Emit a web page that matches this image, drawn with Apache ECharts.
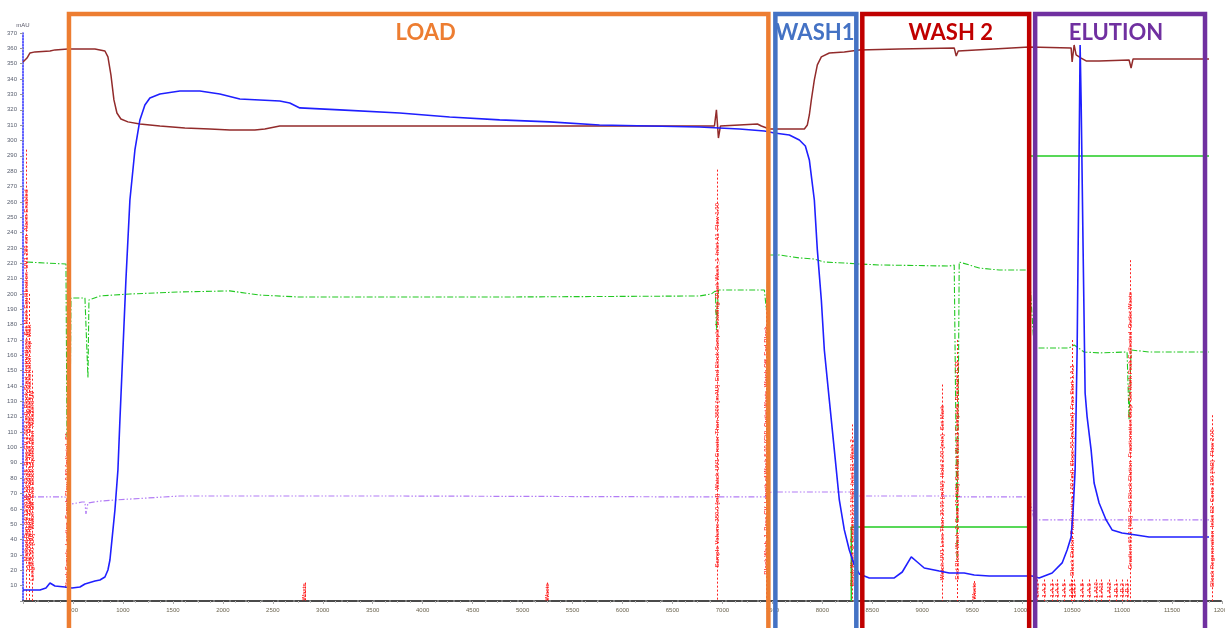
<!DOCTYPE html>
<html>
<head>
<meta charset="utf-8">
<script src="https://cdn.jsdelivr.net/npm/echarts@6/dist/echarts.min.js"></script>
<style>
  html, body { margin: 0; padding: 0; background: #fff; }
  #chart { width: 1225px; height: 628px; }
</style>
</head>
<body>
<div id="chart"></div>
<script>
// Purification run: UV absorbance, conductivity, pH, pressure and %B over volume (ml)

// UV 1_280 absorbance, [ml, mAU]
const uv280 = [
  [0, 7.2], [17, 7.2], [23, 8.5], [27, 11.7], [32, 9.8], [42, 9.1], [49, 8.5], [57, 9.1],
  [62, 11.1], [72, 13.0], [77, 13.7], [82, 15.6], [85, 20.2], [87, 26.7], [89, 39.7],
  [92, 59.3], [95, 85.3], [97, 117.9], [100, 163.5], [103, 209.1], [107, 261.2],
  [112, 293.8], [117, 313.4], [122, 323.1], [127, 327.7], [137, 330.3], [157, 332.2],
  [177, 332.2], [197, 330.3], [217, 327.0], [257, 325.7], [267, 324.4], [277, 321.2],
  [317, 319.9], [377, 317.9], [427, 315.3], [477, 313.4], [527, 312.1], [577, 310.1],
  [627, 309.4], [677, 308.8], [717, 307.5], [742, 306.2], [752, 304.9], [767, 303.6],
  [777, 300.3], [783, 296.4], [787, 287.3], [792, 261.2], [795, 228.7], [799, 196.1],
  [802, 163.5], [807, 130.9], [812, 98.4], [817, 65.8], [822, 46.3], [827, 33.2],
  [832, 23.5], [837, 17.6], [847, 15.0], [872, 15.0], [880, 18.9], [889, 28.7],
  [895, 25.4], [902, 21.5], [917, 19.5], [927, 18.2], [942, 18.2], [952, 16.9],
  [967, 16.3], [1010, 16.3], [1017, 15.0], [1030, 18.2], [1040, 24.8], [1045, 33.2],
  [1049, 41.7], [1051, 59.3], [1053, 85.3], [1055, 163.5], [1057, 293.8], [1058, 362.2],
  [1059, 326.4], [1061, 228.7], [1063, 135.5], [1065, 119.9], [1069, 98.4], [1072, 76.9],
  [1077, 63.8], [1084, 52.8], [1090, 46.3], [1100, 44.3], [1114, 43.0], [1127, 41.7],
  [1187, 41.7]
];

// Conductivity trace (scaled to mAU axis)
const conductivity = [
  [0, 351.1], [4, 353.7], [7, 357.0], [12, 357.7], [27, 358.3], [32, 359.0], [45, 359.6],
  [72, 359.6], [82, 358.3], [85, 354.4], [88, 342.7], [91, 326.4], [94, 317.9], [98, 314.0],
  [105, 312.1], [117, 310.7], [137, 309.4], [162, 308.1], [187, 307.5], [207, 306.8],
  [232, 306.8], [242, 307.5], [257, 309.4], [377, 309.4], [577, 309.4], [692, 309.4],
  [694, 319.9], [696, 301.6], [698, 309.4], [717, 310.1], [735, 310.7], [739, 309.4],
  [747, 307.5], [782, 307.5], [785, 310.1], [787, 316.6], [789, 326.4], [792, 339.4],
  [795, 349.2], [799, 354.4], [807, 357.0], [822, 357.7], [837, 359.0], [877, 359.6],
  [932, 360.3], [934, 355.0], [936, 358.3], [1007, 360.9], [1049, 360.3], [1050, 351.1],
  [1052, 362.2], [1054, 355.7], [1059, 353.7], [1064, 351.8], [1077, 351.8], [1107, 352.4],
  [1109, 347.2], [1111, 353.1], [1187, 353.1]
];

// pH trace
const pH = [
  [4, 220.8], [22, 220.2], [43, 219.5], [44, 106.8], [47, 106.8], [48, 197.4], [62, 197.4],
  [64, 196.1], [65, 145.3], [66, 196.1], [77, 198.7], [107, 200.0], [157, 201.3],
  [207, 202.0], [237, 199.3], [277, 198.0], [477, 198.0], [677, 198.7], [689, 200.0],
  [693, 202.0], [694, 176.5], [696, 202.6], [742, 202.6], [744, 189.6], [746, 225.4],
  [757, 225.4], [777, 223.5], [792, 222.8], [802, 220.8], [822, 220.2], [837, 219.5],
  [857, 218.9], [927, 218.2], [932, 218.9], [935, 26.7], [937, 220.8], [947, 218.9],
  [957, 216.9], [977, 215.6], [1007, 215.6], [1012, 164.8], [1047, 164.8], [1052, 166.8],
  [1054, 166.1], [1062, 162.2], [1077, 161.6], [1105, 162.2], [1107, 117.9], [1109, 163.5],
  [1127, 162.2], [1187, 162.2]
];

// Concentration %B (scaled), from the start of wash 2
const concB = [
  [829, 0], [829, 48.2], [1008, 48.2], [1008, 289.9], [1187, 289.9]
];

// System pressure (scaled)
const pressure = [
  [0, 67.8], [42, 67.8], [45, 63.8], [49, 63.2], [59, 64.5], [62, 64.5], [63, 56.7],
  [65, 63.8], [77, 65.1], [92, 65.8], [157, 68.4], [377, 68.4], [677, 67.8], [742, 67.8],
  [749, 71.0], [827, 71.0], [837, 68.4], [932, 68.4], [935, 67.8], [1007, 67.8],
  [1012, 52.8], [1187, 52.8]
];

// Run log events: position (ml), marker height (mAU), text
const eventX   = [3, 6, 9, 44, 282, 525, 695, 744, 830, 920, 935, 952, 1050, 1108, 1190];
const eventTop = [294, 200, 150, 118, 12, 12, 281, 196, 115, 141, 170, 13, 170, 222, 121];
const eventText = [
  'Method Run 04/12/2019 10:42:15  Base CV 1.000 {ml}  Block Start_Instructions  Set Mark Equilibration  UV1 280 nm  Alarm Enabled',
  'Flow 1.00 {ml/min}  Column Position 2  Inlet A1  Outlet Waste  Fractionation Stop  Wait',
  'Length 5.00 {CV}  Watch Off  End Block Equilibration  AutoZero UV',
  'Block Sample_Loading  Sample Flow 0.50 {ml/min}  S1',
  'Waste',
  'Waste',
  'Sample Volume 250.0 {ml}  Watch UV1 Greater Than 3500 {mAU}  End Block Sample_Loading  Block Wash_1  Inlet A1  Flow 1.00',
  'Block Wash_1  Base CV  Length of Wash 5.00 {CV}  Outlet Waste  Watch Off  End Block',
  'Block Wash_2  Gradient 10.0 {%B}  Inlet B1  Wash 2',
  'Watch UV1 Less Than 20.00 {mAU}  Hold 2.00 {min}  Set Mark',
  'End Block Wash_2  Conc 10 {%B}  Set Mark Wash 2 Complete  Pressure 0.32',
  'Waste',
  'Block Elution  Fractionation 1.00 {ml}  Slope 50 {mAU/ml}  Frac Start 1.A.1',
  'Gradient 60.0 {%B}  End Block Elution  Fractionation Stop  Set Mark Peak Collected  Outlet Waste',
  'Block Regeneration  Inlet B2  Conc 100 {%B}  Flow 2.00'
];

// Fraction collector marks during elution
const fracX = [1015, 1022, 1030, 1035, 1042, 1049, 1052, 1060, 1067, 1074, 1079, 1087, 1094, 1100, 1105];
const fracLabel = ['1.A.1', '1.A.2', '1.A.3', '1.A.4', '1.A.5', '1.A.6', '1.A.7', '1.A.8',
  '1.A.9', '1.A10', '1.A11', '1.A12', '1.B.1', '1.B.2', '1.B.3'];
const fracTop = 14;

// Process steps: name, start and end volume (ml)
const phaseNames = ['LOAD', 'WASH1', 'WASH 2', 'ELUTION'];
const phaseStart = [46, 753, 840, 1013];
const phaseEnd   = [746, 834, 1007, 1183];

// Frame colours and title nudges (px)
const phaseColor = { 'LOAD': '#ED7D31', 'WASH1': '#4472C4', 'WASH 2': '#C00000', 'ELUTION': '#7030A0' };
const titleNudge = { 'LOAD': 7, 'WASH1': -1, 'WASH 2': 5, 'ELUTION': -4 };

const chart = echarts.init(document.getElementById('chart'), null, { renderer: 'canvas' });

// Log marker lines (from marker top down to the baseline)
const logLines = eventX.map((x, i) => [{ coord: [x, eventTop[i]] }, { coord: [x, 0] }])
  .concat(fracX.map(x => [{ coord: [x, fracTop] }, { coord: [x, 0] }]));

// Log texts, written upward along each marker, centred on its midpoint
const logTexts = eventX.map((x, i) => ({ value: [x, eventTop[i] / 2], text: eventText[i] }))
  .concat(fracX.map((x, i) => ({ value: [x, fracTop / 2], text: fracLabel[i] })));

const option = {
  animation: false,
  backgroundColor: '#fff',
  grid: { left: 23, right: 3, top: 33, bottom: 27, containLabel: false, outerBoundsMode: 'none' },
  xAxis: {
    type: 'value', min: 0, max: 1200, interval: 50,
    axisLine: { show: true, lineStyle: { color: '#4a4a4a', width: 2, type: [14, 2] } },
    axisTick: { show: true, length: 3, lineStyle: { color: '#aaa' } },
    minorTick: { show: true, splitNumber: 4, length: 2, lineStyle: { color: '#bbb' } },
    splitLine: { show: false },
    axisLabel: {
      fontSize: 6, color: '#6b6450', margin: 6,
      formatter: v => (v === 0 ? '' : String(v * 10))
    }
  },
  yAxis: {
    type: 'value', min: 0, max: 370, interval: 10,
    name: 'mAU', nameLocation: 'end', nameGap: 5,
    nameTextStyle: { fontSize: 6, color: '#556', align: 'center' },
    axisLine: { show: true, lineStyle: { color: '#2a2aff', width: 1.5, type: 'dotted' } },
    axisTick: { show: true, length: 3, lineStyle: { color: '#999' } },
    splitLine: { show: false },
    axisLabel: {
      fontSize: 6, color: '#5a6070', margin: 6,
      formatter: v => (v === 0 ? '' : String(v))
    }
  },
  series: [
    {
      name: 'Pressure', type: 'line', data: pressure, showSymbol: false, z: 2,
      lineStyle: { color: '#b27cf5', width: 1.2, type: [6, 2, 1.5, 2, 1.5, 2] }
    },
    {
      name: 'pH', type: 'line', data: pH, showSymbol: false, z: 2,
      lineStyle: { color: '#22c822', width: 1.1, type: [6, 2, 1.5, 2] }
    },
    {
      name: 'Conc B', type: 'line', data: concB, showSymbol: false, z: 2,
      lineStyle: { color: '#22cc22', width: 1.5 }
    },
    {
      name: 'Run Log', type: 'line', data: [[0, 0]], showSymbol: false, z: 3,
      lineStyle: { opacity: 0 },
      markLine: {
        silent: true, symbol: ['none', 'none'], animation: false,
        lineStyle: { color: '#ff2020', width: 1, type: [2, 2] },
        label: { show: false },
        data: logLines
      }
    },
    {
      name: 'Run Log Text', type: 'scatter', data: logTexts, z: 3, silent: true,
      symbolSize: 1, itemStyle: { color: 'transparent' },
      label: {
        show: true, position: 'inside', rotate: 90,
        color: '#ff0000', fontSize: 6, fontWeight: 'bold', fontFamily: 'Liberation Sans',
        formatter: p => p.data.text
      },
      emphasis: { disabled: true }
    },
    {
      name: 'Cond', type: 'line', data: conductivity, showSymbol: false, z: 4,
      lineStyle: { color: '#922b2b', width: 1.5 }
    },
    {
      name: 'UV 1_280', type: 'line', data: uv280, showSymbol: false, z: 5,
      lineStyle: { color: '#1f1fff', width: 1.6 }
    }
  ]
};

chart.setOption(option);

// Step frames with their titles, placed from the step volumes
function toPx(x) { return chart.convertToPixel({ gridIndex: 0 }, [x, 0])[0]; }
const frames = [];
phaseNames.forEach((name, i) => {
  const l = toPx(phaseStart[i]);
  const r = toPx(phaseEnd[i]);
  const c = phaseColor[name];
  frames.push({
    type: 'rect', z: 100, silent: true,
    shape: { x: l, y: 14, width: r - l, height: 640 },
    style: { fill: 'none', stroke: c, lineWidth: 4.5 }
  });
  frames.push({
    type: 'text', z: 101, silent: true,
    x: (l + r) / 2 + titleNudge[name], y: 33,
    style: {
      text: name, fill: c, font: 'bold 22px Lato',
      textAlign: 'center', textVerticalAlign: 'middle'
    }
  });
});
chart.setOption({ graphic: frames });
</script>
</body>
</html>
